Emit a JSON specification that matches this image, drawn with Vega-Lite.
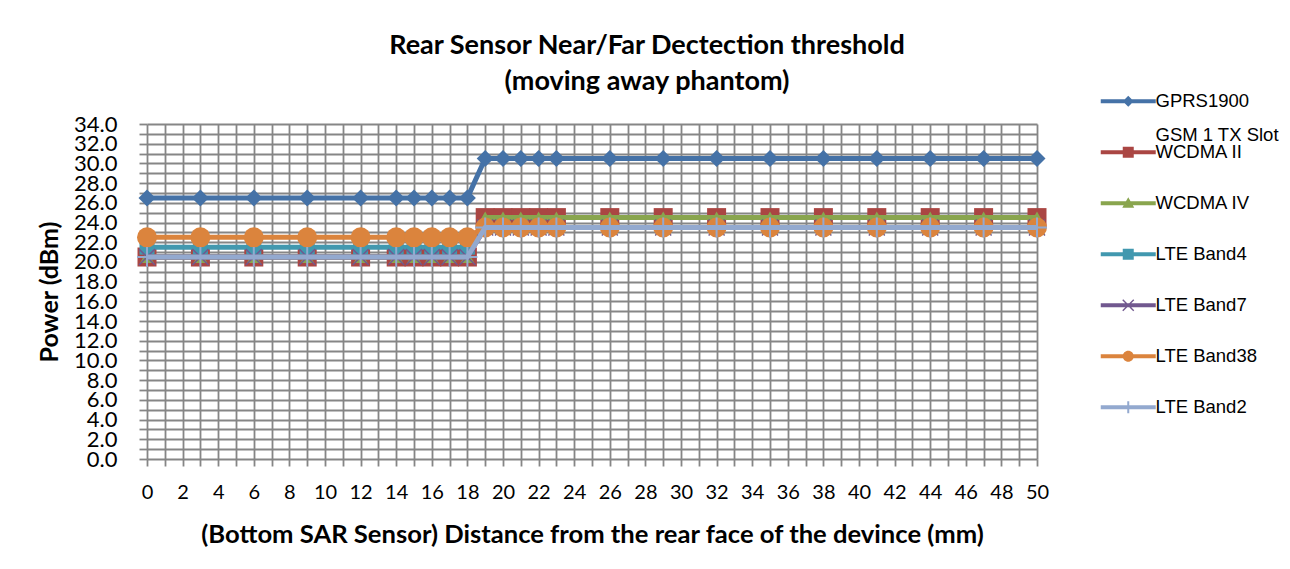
{
"$schema": "https://vega.github.io/schema/vega-lite/v6.json",
"width": 890,
"height": 335,
"autosize": {"type": "none"},
"padding": {"left": 147, "top": 124, "right": 253, "bottom": 110},
"background": "white",
"config": {"view": {"stroke": null}, "font": "Lato"},
"title": {"text": ["Rear Sensor Near/Far Dectection threshold", "(moving away phantom)"], "font": "Lato", "fontSize": 27, "fontWeight": "bold", "color": "black", "anchor": "middle", "frame": "group", "dx": 55, "offset": -4, "lineHeight": 36},
"data": {"values": [
{"mm":0,"series":"GPRS1900","dBm":26.5},{"mm":3,"series":"GPRS1900","dBm":26.5},{"mm":6,"series":"GPRS1900","dBm":26.5},{"mm":9,"series":"GPRS1900","dBm":26.5},{"mm":12,"series":"GPRS1900","dBm":26.5},{"mm":14,"series":"GPRS1900","dBm":26.5},{"mm":15,"series":"GPRS1900","dBm":26.5},{"mm":16,"series":"GPRS1900","dBm":26.5},{"mm":17,"series":"GPRS1900","dBm":26.5},{"mm":18,"series":"GPRS1900","dBm":26.5},{"mm":19,"series":"GPRS1900","dBm":30.5},{"mm":20,"series":"GPRS1900","dBm":30.5},{"mm":21,"series":"GPRS1900","dBm":30.5},{"mm":22,"series":"GPRS1900","dBm":30.5},{"mm":23,"series":"GPRS1900","dBm":30.5},{"mm":26,"series":"GPRS1900","dBm":30.5},{"mm":29,"series":"GPRS1900","dBm":30.5},{"mm":32,"series":"GPRS1900","dBm":30.5},{"mm":35,"series":"GPRS1900","dBm":30.5},{"mm":38,"series":"GPRS1900","dBm":30.5},{"mm":41,"series":"GPRS1900","dBm":30.5},{"mm":44,"series":"GPRS1900","dBm":30.5},{"mm":47,"series":"GPRS1900","dBm":30.5},{"mm":50,"series":"GPRS1900","dBm":30.5},
{"mm":0,"series":"GSM 1 TX Slot WCDMA II","dBm":20.5},{"mm":3,"series":"GSM 1 TX Slot WCDMA II","dBm":20.5},{"mm":6,"series":"GSM 1 TX Slot WCDMA II","dBm":20.5},{"mm":9,"series":"GSM 1 TX Slot WCDMA II","dBm":20.5},{"mm":12,"series":"GSM 1 TX Slot WCDMA II","dBm":20.5},{"mm":14,"series":"GSM 1 TX Slot WCDMA II","dBm":20.5},{"mm":15,"series":"GSM 1 TX Slot WCDMA II","dBm":20.5},{"mm":16,"series":"GSM 1 TX Slot WCDMA II","dBm":20.5},{"mm":17,"series":"GSM 1 TX Slot WCDMA II","dBm":20.5},{"mm":18,"series":"GSM 1 TX Slot WCDMA II","dBm":20.5},{"mm":19,"series":"GSM 1 TX Slot WCDMA II","dBm":24.5},{"mm":20,"series":"GSM 1 TX Slot WCDMA II","dBm":24.5},{"mm":21,"series":"GSM 1 TX Slot WCDMA II","dBm":24.5},{"mm":22,"series":"GSM 1 TX Slot WCDMA II","dBm":24.5},{"mm":23,"series":"GSM 1 TX Slot WCDMA II","dBm":24.5},{"mm":26,"series":"GSM 1 TX Slot WCDMA II","dBm":24.5},{"mm":29,"series":"GSM 1 TX Slot WCDMA II","dBm":24.5},{"mm":32,"series":"GSM 1 TX Slot WCDMA II","dBm":24.5},{"mm":35,"series":"GSM 1 TX Slot WCDMA II","dBm":24.5},{"mm":38,"series":"GSM 1 TX Slot WCDMA II","dBm":24.5},{"mm":41,"series":"GSM 1 TX Slot WCDMA II","dBm":24.5},{"mm":44,"series":"GSM 1 TX Slot WCDMA II","dBm":24.5},{"mm":47,"series":"GSM 1 TX Slot WCDMA II","dBm":24.5},{"mm":50,"series":"GSM 1 TX Slot WCDMA II","dBm":24.5},
{"mm":0,"series":"WCDMA IV","dBm":20.5},{"mm":3,"series":"WCDMA IV","dBm":20.5},{"mm":6,"series":"WCDMA IV","dBm":20.5},{"mm":9,"series":"WCDMA IV","dBm":20.5},{"mm":12,"series":"WCDMA IV","dBm":20.5},{"mm":14,"series":"WCDMA IV","dBm":20.5},{"mm":15,"series":"WCDMA IV","dBm":20.5},{"mm":16,"series":"WCDMA IV","dBm":20.5},{"mm":17,"series":"WCDMA IV","dBm":20.5},{"mm":18,"series":"WCDMA IV","dBm":20.5},{"mm":19,"series":"WCDMA IV","dBm":24.5},{"mm":20,"series":"WCDMA IV","dBm":24.5},{"mm":21,"series":"WCDMA IV","dBm":24.5},{"mm":22,"series":"WCDMA IV","dBm":24.5},{"mm":23,"series":"WCDMA IV","dBm":24.5},{"mm":26,"series":"WCDMA IV","dBm":24.5},{"mm":29,"series":"WCDMA IV","dBm":24.5},{"mm":32,"series":"WCDMA IV","dBm":24.5},{"mm":35,"series":"WCDMA IV","dBm":24.5},{"mm":38,"series":"WCDMA IV","dBm":24.5},{"mm":41,"series":"WCDMA IV","dBm":24.5},{"mm":44,"series":"WCDMA IV","dBm":24.5},{"mm":47,"series":"WCDMA IV","dBm":24.5},{"mm":50,"series":"WCDMA IV","dBm":24.5},
{"mm":0,"series":"LTE Band4","dBm":21.5},{"mm":3,"series":"LTE Band4","dBm":21.5},{"mm":6,"series":"LTE Band4","dBm":21.5},{"mm":9,"series":"LTE Band4","dBm":21.5},{"mm":12,"series":"LTE Band4","dBm":21.5},{"mm":14,"series":"LTE Band4","dBm":21.5},{"mm":15,"series":"LTE Band4","dBm":21.5},{"mm":16,"series":"LTE Band4","dBm":21.5},{"mm":17,"series":"LTE Band4","dBm":21.5},{"mm":18,"series":"LTE Band4","dBm":21.5},{"mm":19,"series":"LTE Band4","dBm":23.5},{"mm":20,"series":"LTE Band4","dBm":23.5},{"mm":21,"series":"LTE Band4","dBm":23.5},{"mm":22,"series":"LTE Band4","dBm":23.5},{"mm":23,"series":"LTE Band4","dBm":23.5},{"mm":26,"series":"LTE Band4","dBm":23.5},{"mm":29,"series":"LTE Band4","dBm":23.5},{"mm":32,"series":"LTE Band4","dBm":23.5},{"mm":35,"series":"LTE Band4","dBm":23.5},{"mm":38,"series":"LTE Band4","dBm":23.5},{"mm":41,"series":"LTE Band4","dBm":23.5},{"mm":44,"series":"LTE Band4","dBm":23.5},{"mm":47,"series":"LTE Band4","dBm":23.5},{"mm":50,"series":"LTE Band4","dBm":23.5},
{"mm":0,"series":"LTE Band7","dBm":20.5},{"mm":3,"series":"LTE Band7","dBm":20.5},{"mm":6,"series":"LTE Band7","dBm":20.5},{"mm":9,"series":"LTE Band7","dBm":20.5},{"mm":12,"series":"LTE Band7","dBm":20.5},{"mm":14,"series":"LTE Band7","dBm":20.5},{"mm":15,"series":"LTE Band7","dBm":20.5},{"mm":16,"series":"LTE Band7","dBm":20.5},{"mm":17,"series":"LTE Band7","dBm":20.5},{"mm":18,"series":"LTE Band7","dBm":20.5},{"mm":19,"series":"LTE Band7","dBm":23.5},{"mm":20,"series":"LTE Band7","dBm":23.5},{"mm":21,"series":"LTE Band7","dBm":23.5},{"mm":22,"series":"LTE Band7","dBm":23.5},{"mm":23,"series":"LTE Band7","dBm":23.5},{"mm":26,"series":"LTE Band7","dBm":23.5},{"mm":29,"series":"LTE Band7","dBm":23.5},{"mm":32,"series":"LTE Band7","dBm":23.5},{"mm":35,"series":"LTE Band7","dBm":23.5},{"mm":38,"series":"LTE Band7","dBm":23.5},{"mm":41,"series":"LTE Band7","dBm":23.5},{"mm":44,"series":"LTE Band7","dBm":23.5},{"mm":47,"series":"LTE Band7","dBm":23.5},{"mm":50,"series":"LTE Band7","dBm":23.5},
{"mm":0,"series":"LTE Band38","dBm":22.5},{"mm":3,"series":"LTE Band38","dBm":22.5},{"mm":6,"series":"LTE Band38","dBm":22.5},{"mm":9,"series":"LTE Band38","dBm":22.5},{"mm":12,"series":"LTE Band38","dBm":22.5},{"mm":14,"series":"LTE Band38","dBm":22.5},{"mm":15,"series":"LTE Band38","dBm":22.5},{"mm":16,"series":"LTE Band38","dBm":22.5},{"mm":17,"series":"LTE Band38","dBm":22.5},{"mm":18,"series":"LTE Band38","dBm":22.5},{"mm":19,"series":"LTE Band38","dBm":23.5},{"mm":20,"series":"LTE Band38","dBm":23.5},{"mm":21,"series":"LTE Band38","dBm":23.5},{"mm":22,"series":"LTE Band38","dBm":23.5},{"mm":23,"series":"LTE Band38","dBm":23.5},{"mm":26,"series":"LTE Band38","dBm":23.5},{"mm":29,"series":"LTE Band38","dBm":23.5},{"mm":32,"series":"LTE Band38","dBm":23.5},{"mm":35,"series":"LTE Band38","dBm":23.5},{"mm":38,"series":"LTE Band38","dBm":23.5},{"mm":41,"series":"LTE Band38","dBm":23.5},{"mm":44,"series":"LTE Band38","dBm":23.5},{"mm":47,"series":"LTE Band38","dBm":23.5},{"mm":50,"series":"LTE Band38","dBm":23.5},
{"mm":0,"series":"LTE Band2","dBm":20.5},{"mm":3,"series":"LTE Band2","dBm":20.5},{"mm":6,"series":"LTE Band2","dBm":20.5},{"mm":9,"series":"LTE Band2","dBm":20.5},{"mm":12,"series":"LTE Band2","dBm":20.5},{"mm":14,"series":"LTE Band2","dBm":20.5},{"mm":15,"series":"LTE Band2","dBm":20.5},{"mm":16,"series":"LTE Band2","dBm":20.5},{"mm":17,"series":"LTE Band2","dBm":20.5},{"mm":18,"series":"LTE Band2","dBm":20.5},{"mm":19,"series":"LTE Band2","dBm":23.5},{"mm":20,"series":"LTE Band2","dBm":23.5},{"mm":21,"series":"LTE Band2","dBm":23.5},{"mm":22,"series":"LTE Band2","dBm":23.5},{"mm":23,"series":"LTE Band2","dBm":23.5},{"mm":26,"series":"LTE Band2","dBm":23.5},{"mm":29,"series":"LTE Band2","dBm":23.5},{"mm":32,"series":"LTE Band2","dBm":23.5},{"mm":35,"series":"LTE Band2","dBm":23.5},{"mm":38,"series":"LTE Band2","dBm":23.5},{"mm":41,"series":"LTE Band2","dBm":23.5},{"mm":44,"series":"LTE Band2","dBm":23.5},{"mm":47,"series":"LTE Band2","dBm":23.5},{"mm":50,"series":"LTE Band2","dBm":23.5}
]},
"encoding": {
  "x": {"field": "mm", "type": "quantitative", "scale": {"domain": [0, 50], "nice": false, "zero": false},
    "axis": {"title": "(Bottom SAR Sensor) Distance from the rear face of the devince (mm)", "tickCount": 50, "labelExpr": "datum.value % 2 ? '' : datum.label", "labelFlush": false, "labelOverlap": false, "labelFont": "Lato", "labelFontSize": 20, "labelColor": "black", "labelPadding": 16, "tickSize": 7, "tickColor": "#868686", "tickWidth": 1.8, "grid": true, "gridColor": "#868686", "gridWidth": 1.8, "gridOpacity": 1, "domain": false, "titleFont": "Lato", "titleFontSize": 25.6, "titleFontWeight": "bold", "titleColor": "black", "titlePadding": 20}},
  "y": {"field": "dBm", "type": "quantitative", "scale": {"domain": [0, 34], "nice": false, "zero": true},
    "axis": {"title": "Power (dBm)", "tickCount": 34, "labelExpr": "datum.value % 2 ? '' : format(datum.value, '.1f')", "labelOverlap": false, "labelFont": "Lato", "labelFontSize": 22, "labelColor": "black", "labelPadding": 22, "tickSize": 8, "tickColor": "#868686", "tickWidth": 1.8, "grid": true, "gridColor": "#868686", "gridWidth": 1.8, "gridOpacity": 1, "domain": false, "titleFont": "Lato", "titleFontSize": 25, "titleFontWeight": "bold", "titleColor": "black", "titlePadding": 11,
      "encode": {"ticks": {"update": {"x2": {"signal": "datum.value % 2 ? 7 : -8"}}}, "grid": {"update": {"strokeOpacity": {"signal": "datum.value % 2 ? 0 : 1"}}}}}},
  "color": {"field": "series", "type": "nominal",
    "scale": {"domain": ["GPRS1900", "GSM 1 TX Slot WCDMA II", "WCDMA IV", "LTE Band4", "LTE Band7", "LTE Band38", "LTE Band2"], "range": ["#4572A7", "#AA4643", "#89A54E", "#4198AF", "#71588F", "#DB843D", "#93A9CF"]},
    "legend": {"orient": "none", "legendX": 972, "legendY": -32, "title": null, "padding": 0, "symbolSize": 100, "labelFont": "Liberation Sans", "labelFontSize": 18.5, "labelColor": "black", "labelOffset": 18, "rowPadding": 15, "labelLimit": 300,
      "labelExpr": "datum.label === 'GSM 1 TX Slot WCDMA II' ? ['GSM 1 TX Slot', 'WCDMA II'] : [' ', datum.label]",
      "encode": {
        "symbols": {"update": {
          "shape": {"signal": "datum.value === 'GPRS1900' ? 'M-5.5,-0.4H5.5V0.4H-5.5Z M0,-1.1L1.1,0L0,1.1L-1.1,0Z' : (datum.value === 'GSM 1 TX Slot WCDMA II' || datum.value === 'LTE Band4') ? 'M-5.5,-0.4H5.5V0.4H-5.5Z M-1.1,-1.1H1.1V1.1H-1.1Z' : datum.value === 'WCDMA IV' ? 'M-5.5,-0.4H5.5V0.4H-5.5Z M0,-1.2L1.2,0.9H-1.2Z' : datum.value === 'LTE Band7' ? 'M-5.5,-0.4H5.5V0.4H-5.5Z M-1,-1.2L1.2,1L1,1.2L-1.2,-1Z M1,-1.2L1.2,-1L-1,1.2L-1.2,1Z' : datum.value === 'LTE Band38' ? 'M-5.5,-0.4H5.5V0.4H-5.5Z M-1.1,0A1.1,1.1 0 1,1 1.1,0A1.1,1.1 0 1,1 -1.1,0Z' : 'M-5.5,-0.4H5.5V0.4H-5.5Z M-0.2,-1.2H0.2V1.2H-0.2Z'"},
          "fill": {"scale": "color", "field": "value"},
          "fillOpacity": {"value": 1},
          "stroke": {"value": "transparent"},
          "strokeWidth": {"value": 0},
          "opacity": {"value": 1}}},
        "labels": {"update": {"dy": {"value": -17}, "lineHeight": {"value": 17}}}}}}
},
"layer": [
  {"transform": [{"filter": "datum.series === 'GPRS1900'"}], "mark": {"type": "line", "strokeWidth": 5, "point": {"filled": true, "shape": "diamond", "size": 289}}},
  {"transform": [{"filter": "datum.series === 'GSM 1 TX Slot WCDMA II'"}], "mark": {"type": "line", "strokeWidth": 5, "point": {"filled": true, "shape": "square", "size": 361}}},
  {"transform": [{"filter": "datum.series === 'WCDMA IV'"}], "mark": {"type": "line", "strokeWidth": 5, "point": {"filled": true, "shape": "triangle-up", "size": 196}}},
  {"transform": [{"filter": "datum.series === 'LTE Band4'"}], "mark": {"type": "line", "strokeWidth": 5, "point": {"filled": true, "shape": "square", "size": 225}}},
  {"transform": [{"filter": "datum.series === 'LTE Band7'"}], "mark": {"type": "line", "strokeWidth": 5, "point": {"filled": false, "shape": "M-1,-1L1,1M-1,1L1,-1", "size": 256, "strokeWidth": 1.5}}},
  {"transform": [{"filter": "datum.series === 'LTE Band38'"}], "mark": {"type": "line", "strokeWidth": 5, "point": {"filled": true, "shape": "circle", "size": 400}}},
  {"transform": [{"filter": "datum.series === 'LTE Band2'"}], "mark": {"type": "line", "strokeWidth": 5, "point": {"filled": false, "shape": "M0,-1V1M-1,0H1", "size": 400, "strokeWidth": 2}}}
]
}
